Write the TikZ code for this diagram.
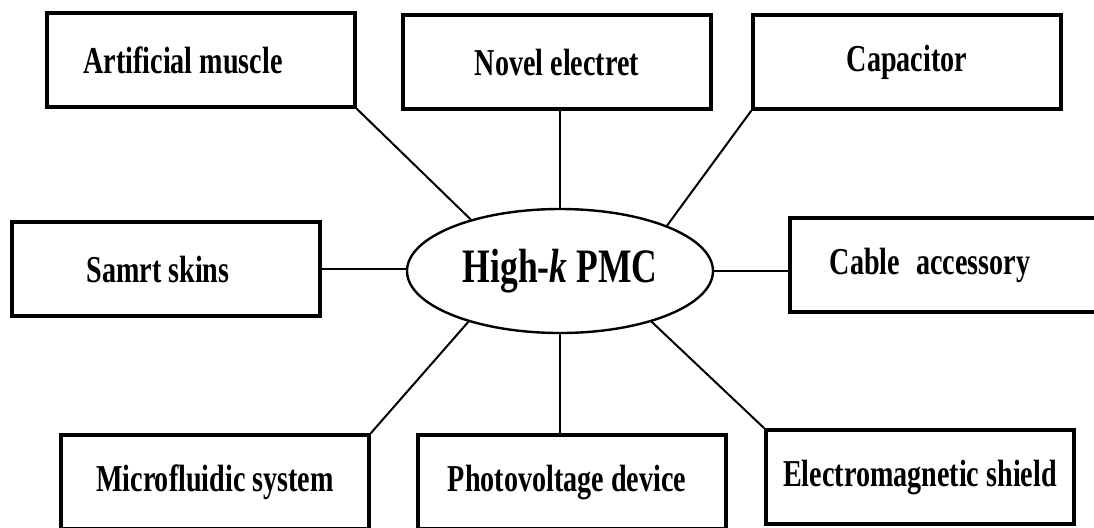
\documentclass[tikz,border=0pt]{standalone}
\usepackage{fontspec}
\newfontfamily\labelfont{Liberation Serif}[FakeStretch=0.74]
\usetikzlibrary{shapes.geometric}

\begin{document}
\begin{tikzpicture}[
    x=0.5pt, y=-0.5pt,
    app box/.style={draw=black, line width=1.8pt, minimum width=154pt, minimum height=47pt,
        inner sep=0pt, font=\labelfont\bfseries\fontsize{19}{22}\selectfont},
    hub node/.style={ellipse, draw=black, line width=1.2pt, minimum width=153pt, minimum height=62pt,
        inner sep=0pt, font=\labelfont\bfseries\fontsize{24}{28}\selectfont},
    spoke/.style={draw=black, line width=1pt}
]
\useasboundingbox (0,0) rectangle (1094,527);

% Centre
\node[hub node] (hub) at (560,271) {High-\textit{k} PMC};

% Applications
\node[app box] (muscle)   at (201,60)  {\hspace*{-18pt}Artificial muscle};
\node[app box] (electret) at (557,62)  {Novel electret};
\node[app box] (capac)    at (907,62)  {Capacitor};
\node[app box] (skins)    at (166,269) {\hspace*{-8pt}Samrt skins};
\node[app box] (cable)    at (944,265) {\hspace*{-14pt}Cable\hspace{8pt}accessory};
\node[app box] (fluidic)  at (215,482) {Microfluidic system};
\node[app box] (photo)    at (572,482) {\hspace*{-5pt}Photovoltage device};
\node[app box] (shield)   at (920,477) {Electromagnetic shield};

% Spokes
\draw[spoke] (muscle.south east) -- (hub.150);
\draw[spoke] (hub.north) -- (hub.north |- electret.south);
\draw[spoke] (capac.south west) -- (hub.23);
\draw[spoke] (skins.east) -- (skins.east -| hub.west);
\draw[spoke] (hub.east) -- (hub.east -| cable.west);
\draw[spoke] (fluidic.north east) -- (hub.209);
\draw[spoke] (hub.south) -- (hub.south |- photo.north);
\draw[spoke] (shield.north west) -- (hub.331);
\end{tikzpicture}
\end{document}
